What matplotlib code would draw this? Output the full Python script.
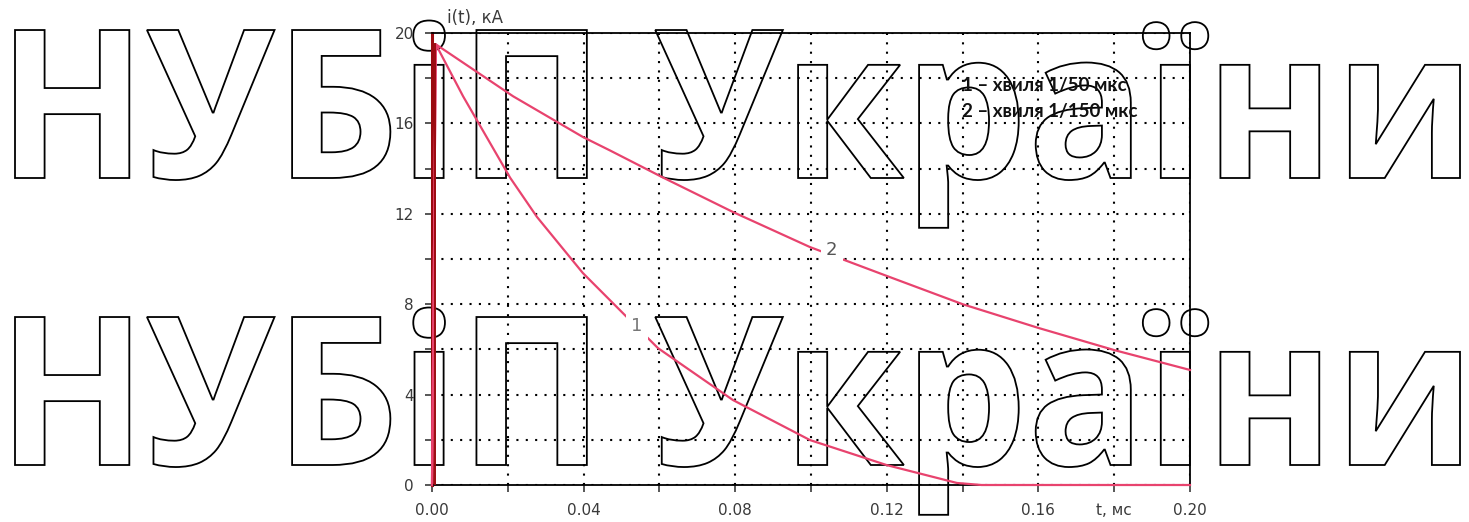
import matplotlib
matplotlib.use('Agg')
import matplotlib.pyplot as plt
from matplotlib.textpath import TextPath
from matplotlib.patches import PathPatch
from matplotlib.font_manager import FontProperties
from matplotlib.transforms import Affine2D

# --- data (t in ms, i in kA) ---
t_wave1 = [0.0, 0.001, 0.0082, 0.0206, 0.0277, 0.0398, 0.0504, 0.0596, 0.0794, 0.0997, 0.12, 0.1385, 0.145, 0.20]
i_wave1 = [0.0, 19.5, 17.2, 13.6, 11.86, 9.38, 7.6, 6.06, 3.76, 1.99, 0.88, 0.09, 0.0, 0.0]

t_wave2 = [0.0, 0.001, 0.0214, 0.0398, 0.047, 0.061, 0.0794, 0.0997, 0.12, 0.14, 0.16, 0.18, 0.20]
i_wave2 = [0.0, 19.5, 17.2, 15.4, 14.8, 13.6, 12.08, 10.53, 9.25, 8.0, 6.95, 5.97, 5.09]

legend_lines = ["1 – хвиля 1/50 мкс", "2 – хвиля 1/150 мкс"]
watermark = "НУБіП України"

x_ticks = [0.00, 0.02, 0.04, 0.06, 0.08, 0.10, 0.12, 0.14, 0.16, 0.18, 0.20]
x_labels = ["0.00", "", "0.04", "", "0.08", "", "0.12", "", "0.16", "t, мс", "0.20"]
y_ticks = [0, 2, 4, 6, 8, 10, 12, 14, 16, 18, 20]
y_labels = ["0", "", "4", "", "8", "", "12", "", "16", "", "20"]

CURVE = '#e8436e'
FRONT = '#9b0a10'
GREY = '#3a3a3a'

W, H = 1469, 522
fig = plt.figure(figsize=(W / 100, H / 100), dpi=100)
fig.patch.set_facecolor('white')
ax = fig.add_axes([432 / W, 37 / H, 758 / W, 452 / H])
ax.set_facecolor('none')

# Curves
ax.plot(t_wave2, i_wave2, color=CURVE, lw=1.6, zorder=3, clip_on=False)
ax.plot(t_wave1, i_wave1, color=CURVE, lw=1.6, zorder=3, clip_on=False)
ax.plot([0.0007, 0.0007], [0, 19.5], color=FRONT, lw=1.4, zorder=4)

ax.set_xlim(0, 0.2)
ax.set_ylim(0, 20)
ax.set_xticks(x_ticks)
ax.set_xticklabels(x_labels)
ax.set_yticks(y_ticks)
ax.set_yticklabels(y_labels)
ax.tick_params(direction='out', length=5, width=1.2, colors=GREY, labelsize=11, pad=8)

ax.grid(True, color='black', linestyle=(0, (1, 3.5)), linewidth=1.5, zorder=1)

for s in ['top', 'right', 'bottom']:
    ax.spines[s].set_color('black')
    ax.spines[s].set_linewidth(1.3)
ax.spines['left'].set_color(FRONT)
ax.spines['left'].set_linewidth(2.2)

# curve labels (gaps in the line)
ax.text(0.1055, 10.4, "2", color='#555555', fontsize=13, ha='center', va='center',
        bbox=dict(boxstyle='square,pad=0.3', facecolor='white', edgecolor='none'), zorder=5)
ax.text(0.0540, 7.05, "1", color='#777777', fontsize=13, ha='center', va='center',
        bbox=dict(boxstyle='square,pad=0.3', facecolor='white', edgecolor='none'), zorder=5)

# legend text
fig.text(962 / W, 1 - 85 / H, legend_lines[0], fontsize=13.5, fontweight='bold',
         family='Lato', va='center', ha='left', color='#111111')
fig.text(962 / W, 1 - 112 / H, legend_lines[1], fontsize=13.5, fontweight='bold',
         family='Lato', va='center', ha='left', color='#111111')

# axis caption
fig.text(447 / W, 1 - 18 / H, "i(t), кА", fontsize=12, color=GREY, ha='left', va='center')

# watermark, outlined letters fitted to the reference box, drawn beneath the axes
tp = TextPath((0, 0), watermark, size=100,
              prop=FontProperties(family='Open Sans', weight='bold'))
ext = tp.get_extents()
cap = 71.4
sx = (1460 - 15) / (ext.x1 - ext.x0)
sy = 148 / cap
for yb in [178, 465]:
    tr = Affine2D().translate(-ext.x0, 0).scale(sx, sy).translate(15, H - yb)
    patch = PathPatch(tp, facecolor='white', edgecolor='black', lw=1.3,
                      transform=tr, zorder=-1)
    fig.add_artist(patch)

fig.savefig('out.png', dpi=100)
